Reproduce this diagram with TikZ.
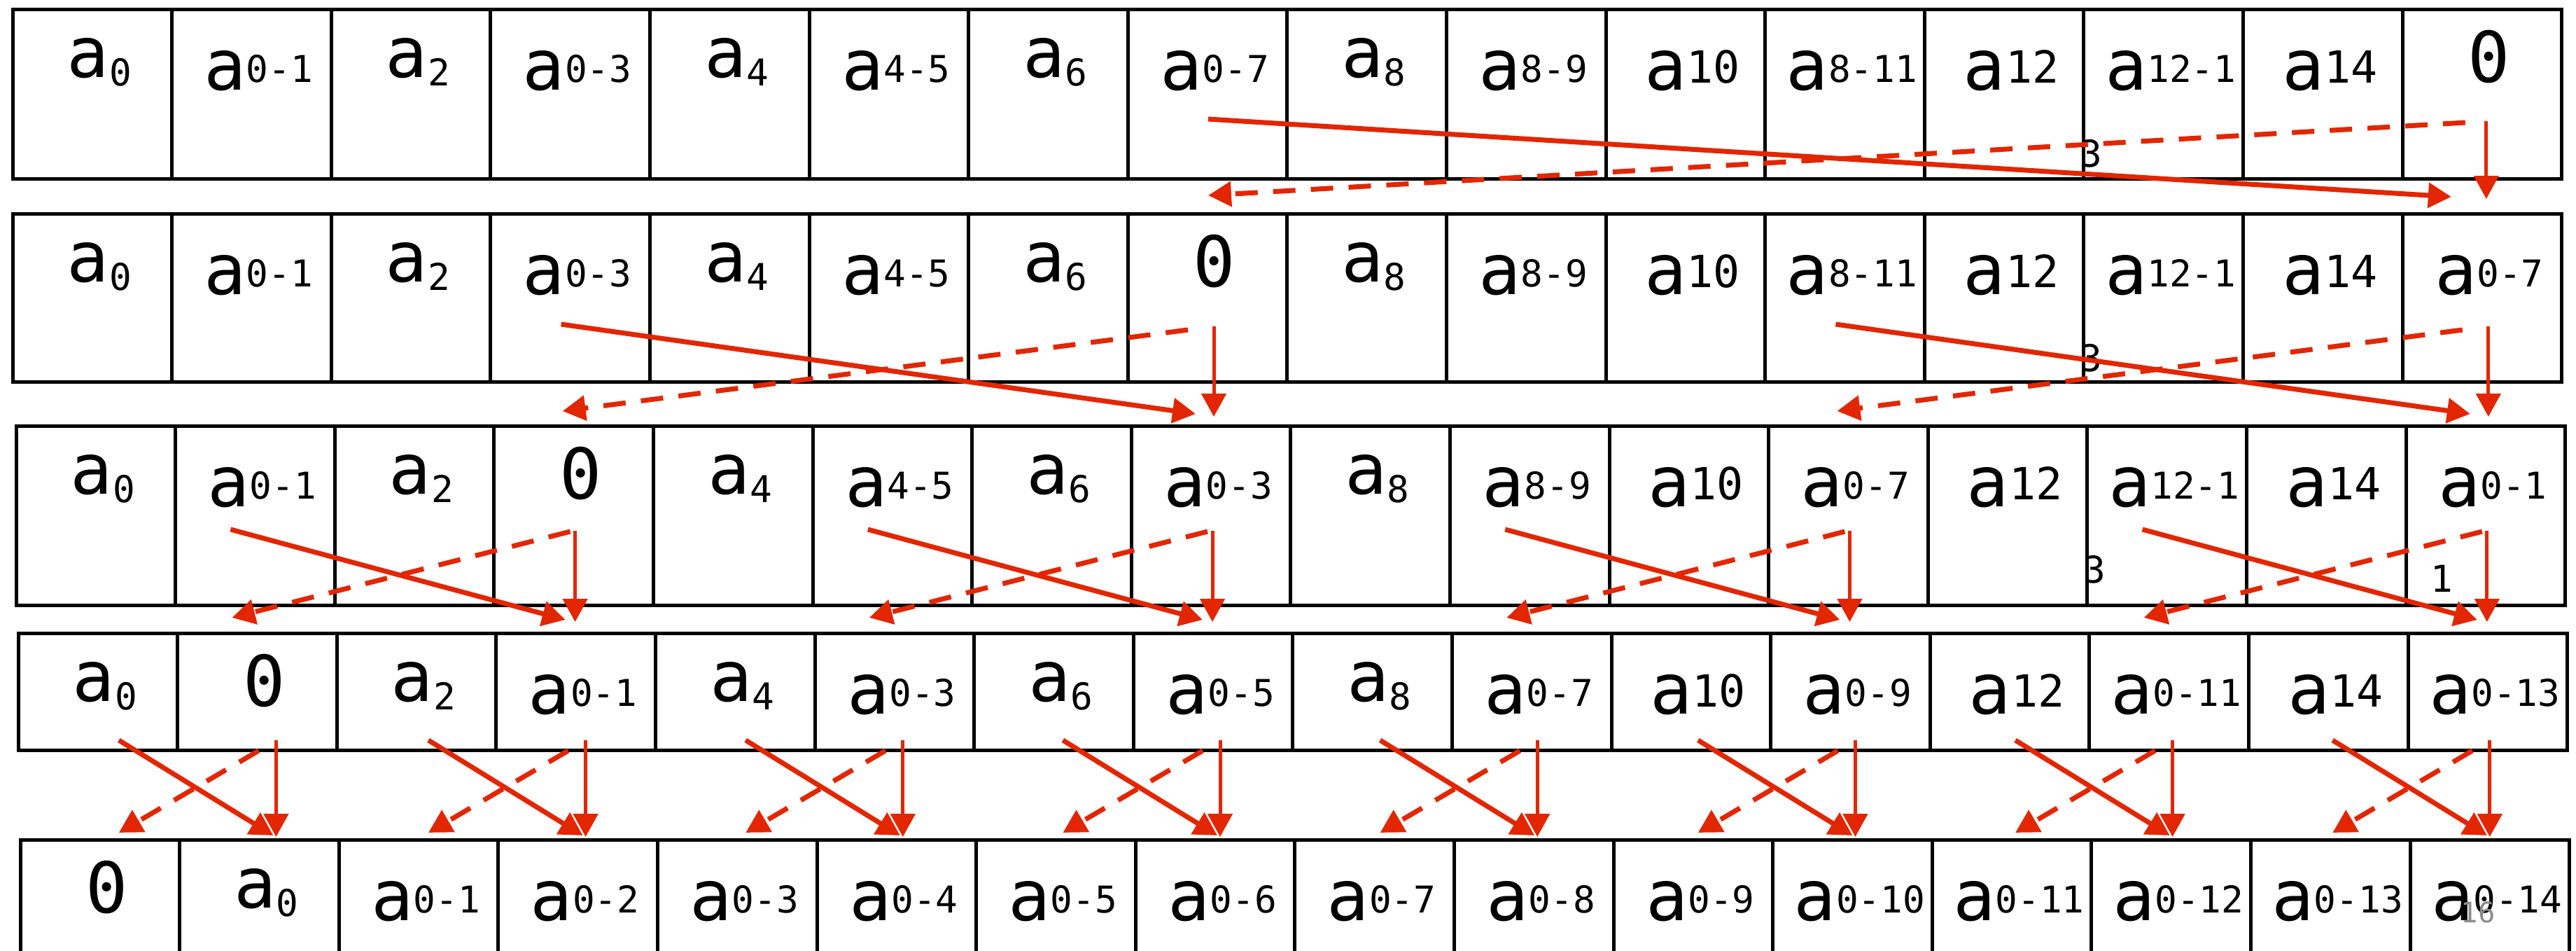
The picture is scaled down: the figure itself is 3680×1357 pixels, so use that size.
\documentclass[tikz,border=0pt]{standalone}
\usepackage{fontspec}
\newfontfamily\cellfont{DejaVu Sans Mono}
\usetikzlibrary{arrows.meta}
\definecolor{scanred}{RGB}{226,38,0}
\tikzset{
  cell/.style={rectangle, draw=black, line width=0.5mm, minimum width=22.76mm, anchor=north west, inner sep=0pt, outer sep=0pt},
  lbl/.style={anchor=base, inner sep=0pt, font={\cellfont\fontsize{28.5pt}{30pt}\selectfont}},
  wrap/.style={anchor=base west, inner sep=0pt, font={\cellfont\fontsize{15pt}{16pt}\selectfont}},
  sumarrow/.style={draw=scanred, line width=0.7mm, -{Triangle[length=3.3mm, width=3.5mm]}},
  swaparrow/.style={sumarrow, dash pattern=on 3.2mm off 2.2mm},
  copyarrow/.style={sumarrow, line width=0.5mm}
}
\newcommand{\asub}[1]{\raisebox{1.8mm}{a\raisebox{-1.2mm}{\fontsize{15pt}{16pt}\selectfont #1}}}
\newcommand{\arng}[1]{a\raisebox{1.1mm}{\fontsize{15pt}{16pt}\selectfont #1}}
\newcommand{\abig}[1]{a\raisebox{1.0mm}{\fontsize{18pt}{19pt}\selectfont #1}}
\newcommand{\azero}{\raisebox{1.1mm}{0}}

\begin{document}
\begin{tikzpicture}[x=0.1mm, y=-0.1mm]

  \clip (0,0) rectangle (3680,1357);

  % rows of cells
  \foreach \r/\x/\y/\h in {1/18/13/242, 2/18/305/240, 3/23/608/256, 4/26/904/167, 5/29/1199/200}
    \foreach \i in {0,...,15}
      \node (r\r-\i) [cell, minimum height=\h*0.1mm] at ({\x+227.6*\i},\y) {};

  % cell texts
  \foreach \txt [count=\i from 0] in {\asub{0},\arng{0-1},\asub{2},\arng{0-3},\asub{4},\arng{4-5},\asub{6},\arng{0-7},\asub{8},\arng{8-9},\abig{10},\arng{8-11},\abig{12},\arng{12-1},\abig{14},\azero}
    \node (t1-\i) [lbl] at ([shift={(10,115)}]r1-\i.north) {\txt};
  \foreach \txt [count=\i from 0] in {\asub{0},\arng{0-1},\asub{2},\arng{0-3},\asub{4},\arng{4-5},\asub{6},\azero,\asub{8},\arng{8-9},\abig{10},\arng{8-11},\abig{12},\arng{12-1},\abig{14},\arng{0-7}}
    \node (t2-\i) [lbl] at ([shift={(10,115)}]r2-\i.north) {\txt};
  \foreach \txt [count=\i from 0] in {\asub{0},\arng{0-1},\asub{2},\azero,\asub{4},\arng{4-5},\asub{6},\arng{0-3},\asub{8},\arng{8-9},\abig{10},\arng{0-7},\abig{12},\arng{12-1},\abig{14},\arng{0-1}}
    \node (t3-\i) [lbl] at ([shift={(10,115)}]r3-\i.north) {\txt};
  \foreach \txt [count=\i from 0] in {\asub{0},\azero,\asub{2},\arng{0-1},\asub{4},\arng{0-3},\asub{6},\arng{0-5},\asub{8},\arng{0-7},\abig{10},\arng{0-9},\abig{12},\arng{0-11},\abig{14},\arng{0-13}}
    \node (t4-\i) [lbl] at ([shift={(10,115)}]r4-\i.north) {\txt};
  \foreach \txt [count=\i from 0] in {\azero,\asub{0},\arng{0-1},\arng{0-2},\arng{0-3},\arng{0-4},\arng{0-5},\arng{0-6},\arng{0-7},\arng{0-8},\arng{0-9},\arng{0-10},\arng{0-11},\arng{0-12},\arng{0-13},\arng{0-14}}
    \node (t5-\i) [lbl] at ([shift={(10,115)}]r5-\i.north) {\txt};

  % wrapped digits
  \node (w1) [wrap] at ([shift={(-6,225)}]r1-13.north west) {3};
  \node (w2) [wrap] at ([shift={(-6,225)}]r2-13.north west) {3};
  \node (w3) [wrap] at ([shift={(-6,224)}]r3-13.north west) {3};
  \node (w4) [wrap] at ([shift={(35,237)}]r3-15.north west) {1};
  \node (pageno) [anchor=base west, inner sep=0pt, text=black!45, font={\cellfont\fontsize{11.5pt}{12pt}\selectfont}] at (3515,1317) {16};

  % level 1
  \draw [sumarrow] ([shift={(1,-85)}]r1-7.south) -- ([shift={(-44,-24)}]r2-15.north);
  \draw [swaparrow] ([shift={(-24,-80)}]r1-15.south) -- ([shift={(1,-26)}]r2-7.north);
  \draw [copyarrow] ([shift={(6,-82)}]r1-15.south) -- ([shift={(6,-21)}]r2-15.north);

  % level 2
  \foreach \s/\d in {3/7, 11/15} {
    \draw [sumarrow] ([shift={(-13,-82)}]r2-\s.south) -- ([shift={(-22,-17)}]r3-\d.north);
    \draw [swaparrow] ([shift={(-28,-74)}]r2-\d.south) -- ([shift={(-16,-21)}]r3-\s.north);
    \draw [copyarrow] ([shift={(9,-79)}]r2-\d.south) -- ([shift={(4,-13)}]r3-\d.north);
  }

  % level 3
  \foreach \s/\d in {1/3, 5/7, 9/11, 13/15} {
    \draw [sumarrow] ([shift={(-35,-108)}]r3-\s.south) -- ([shift={(-15,-19)}]r4-\d.north);
    \draw [swaparrow] ([shift={(-5,-105)}]r3-\d.south) -- ([shift={(-36,-22)}]r4-\s.north);
    \draw [copyarrow] ([shift={(2,-106)}]r3-\d.south) -- ([shift={(-1,-16)}]r4-\d.north);
  }

  % level 4
  \foreach \s/\d/\o in {0/1/27, 2/3/14, 4/5/12, 6/7/10, 8/9/8, 10/11/7, 12/13/5, 14/15/3} {
    \draw [sumarrow] ([shift={({\o+3},-14)}]r4-\s.south) -- ([shift={({\o-7},-6)}]r5-\d.north);
    \draw [swaparrow] ([shift={({\o-25},1)}]r4-\d.south) -- ([shift={(\o,-10)}]r5-\s.north);
    \draw [copyarrow] ([shift={(\o,-14)}]r4-\d.south) -- ([shift={({\o-3},-4)}]r5-\d.north);
  }

\end{tikzpicture}
\end{document}
